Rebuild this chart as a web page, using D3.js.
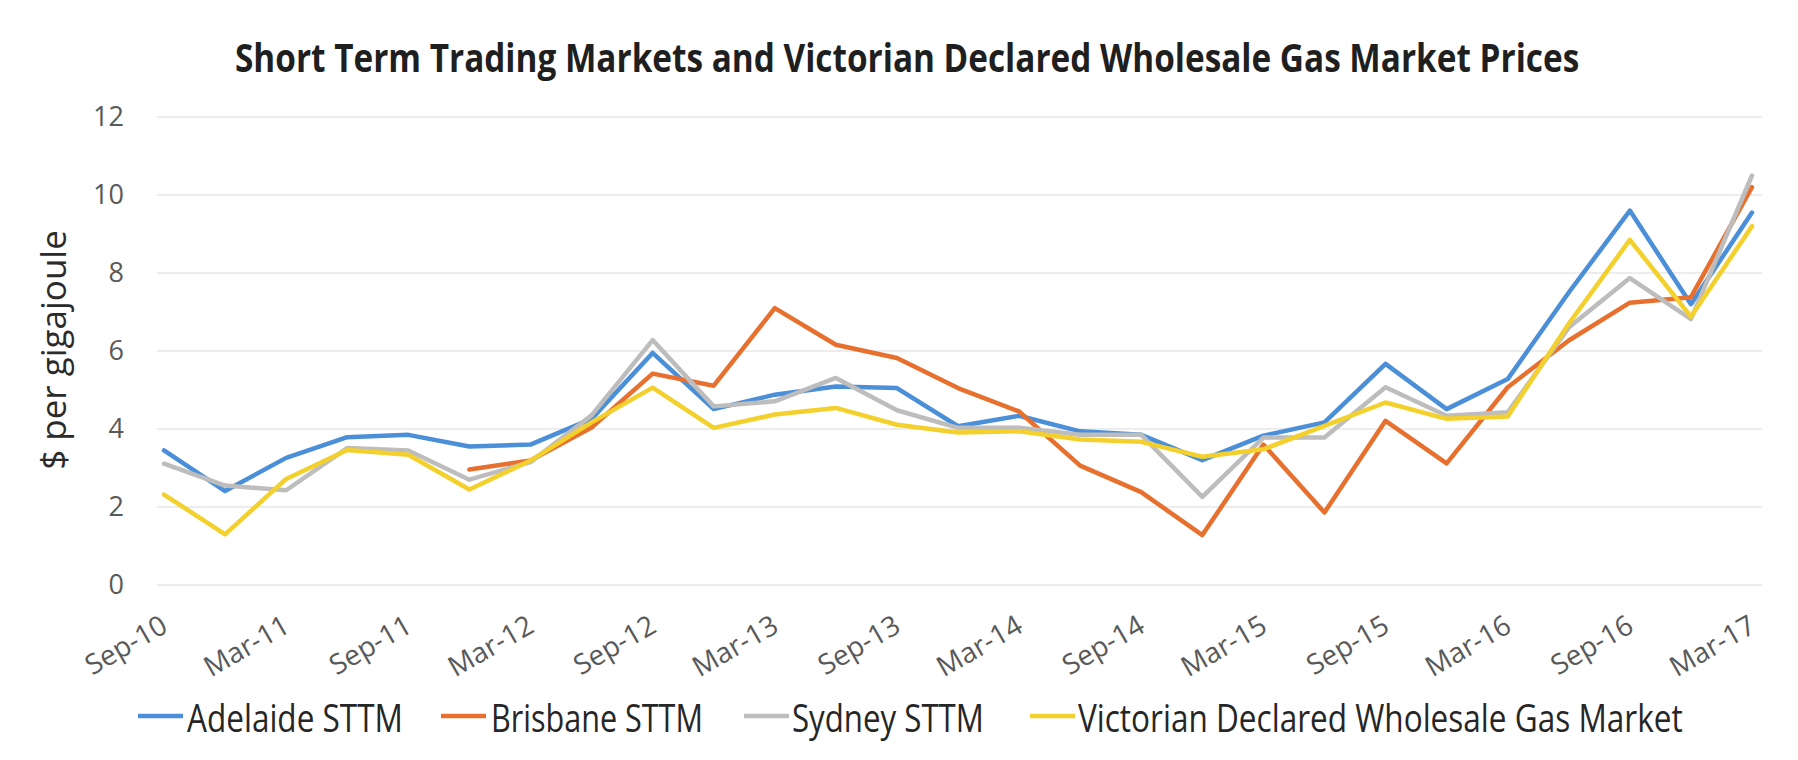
<!DOCTYPE html>
<html>
<head>
<meta charset="utf-8">
<script src="https://cdn.jsdelivr.net/npm/d3@7"></script>
<style>
  html, body { margin: 0; padding: 0; background: #fff; }
  svg { display: block; font-family: 'Open Sans', sans-serif; }
</style>
</head>
<body>
<svg id="chart" width="1798" height="760"></svg>
<script>
// quarterly categories, Sep-10 .. Mar-17
const quarters = [
  'Sep-10', 'Dec-10', 'Mar-11', 'Jun-11', 'Sep-11', 'Dec-11', 'Mar-12', 'Jun-12',
  'Sep-12', 'Dec-12', 'Mar-13', 'Jun-13', 'Sep-13', 'Dec-13', 'Mar-14', 'Jun-14',
  'Sep-14', 'Dec-14', 'Mar-15', 'Jun-15', 'Sep-15', 'Dec-15', 'Mar-16', 'Jun-16',
  'Sep-16', 'Dec-16', 'Mar-17'
]
const tickLabels = ['Sep-10', 'Mar-11', 'Sep-11', 'Mar-12', 'Sep-12', 'Mar-13', 'Sep-13',
  'Mar-14', 'Sep-14', 'Mar-15', 'Sep-15', 'Mar-16', 'Sep-16', 'Mar-17']
const yTicks = [0, 2, 4, 6, 8, 10, 12]

const adelaide = [3.45, 2.41, 3.26, 3.79, 3.85, 3.55, 3.60, 4.26, 5.95, 4.51, 4.88, 5.09, 5.05, 4.07,
  4.34, 3.94, 3.85, 3.20, 3.83, 4.17, 5.67, 4.51, 5.28, 7.50, 9.60, 7.20, 9.55]
const brisbane = [null, null, null, null, null, 2.96, 3.19, 4.04, 5.42, 5.11, 7.10, 6.16, 5.82, 5.05,
  4.45, 3.06, 2.38, 1.28, 3.60, 1.86, 4.21, 3.12, 5.07, 6.27, 7.24, 7.38, 10.2]
const sydney = [3.11, 2.55, 2.43, 3.51, 3.45, 2.70, 3.15, 4.35, 6.28, 4.58, 4.71, 5.31, 4.48, 4.03,
  4.03, 3.85, 3.85, 2.26, 3.78, 3.78, 5.07, 4.34, 4.43, 6.60, 7.87, 6.82, 10.5]
const victoria = [2.32, 1.30, 2.72, 3.46, 3.34, 2.45, 3.19, 4.17, 5.06, 4.03, 4.37, 4.54, 4.11, 3.91,
  3.94, 3.73, 3.67, 3.29, 3.48, 4.08, 4.68, 4.26, 4.32, 6.70, 8.85, 6.88, 9.20]

const series = [
  { name: 'Adelaide STTM', values: adelaide, color: '#4a8fd8' },
  { name: 'Brisbane STTM', values: brisbane, color: '#e8702f' },
  { name: 'Sydney STTM', values: sydney, color: '#bdbdbd' },
  { name: 'Victorian Declared Wholesale Gas Market', values: victoria, color: '#f4d02c' }
]

const svg = d3.select('#chart')

const x = d3.scalePoint().domain(quarters).range([164, 1752])
const y = d3.scaleLinear().domain([0, 12]).range([585, 117])

// squeeze a text horizontally so it spans `width` px starting at x0
function fitWidth(sel, x0, yBase, width) {
  sel.each(function () {
    const natural = this.getComputedTextLength()
    const k = width / natural
    d3.select(this)
      .attr('x', 0)
      .attr('y', 0)
      .attr('transform', `translate(${x0},${yBase}) scale(${k},1)`)
  })
}

// Title
svg.append('text')
  .style('font-size', '39px')
  .style('font-weight', 700)
  .style('fill', '#1f1f1f')
  .text('Short Term Trading Markets and Victorian Declared Wholesale Gas Market Prices')
  .call(fitWidth, 235, 72, 1345)

// Gridlines
svg.append('g')
  .selectAll('line')
  .data(yTicks)
  .enter()
  .append('line')
  .attr('x1', 157)
  .attr('x2', 1762)
  .attr('y1', d => y(d))
  .attr('y2', d => y(d))
  .attr('stroke', '#dcdcdc')
  .attr('stroke-width', 1.2)

// Y axis labels
const yAxis = svg.append('g')
  .attr('transform', 'translate(157,0)')
  .call(d3.axisLeft(y).tickValues(yTicks).tickSize(0).tickPadding(33))
yAxis.select('.domain').remove()
yAxis.selectAll('text')
  .style('font-family', "'Open Sans', sans-serif")
  .style('font-size', '27px')
  .style('fill', '#595959')

// Y axis title
svg.append('text')
  .attr('transform', 'translate(66,350) rotate(-90)')
  .attr('text-anchor', 'middle')
  .style('font-size', '35px')
  .style('fill', '#2b2b2b')
  .text('$ per gigajoule')

// X axis labels
const xAxis = svg.append('g')
  .attr('transform', 'translate(0,585)')
  .call(d3.axisBottom(x).tickValues(tickLabels).tickSize(0).tickPadding(0))
xAxis.select('.domain').remove()
xAxis.selectAll('text')
  .attr('text-anchor', 'end')
  .attr('dy', null)
  .attr('y', 0)
  .attr('transform', 'translate(5,46) rotate(-30)')
  .style('font-family', "'Open Sans', sans-serif")
  .style('font-size', '28px')
  .style('fill', '#595959')

// Lines
const line = d3.line()
  .defined(d => d != null)
  .x((d, i) => x(quarters[i]))
  .y(d => y(d))

svg.append('g')
  .selectAll('path')
  .data(series)
  .enter()
  .append('path')
  .attr('d', d => line(d.values))
  .attr('fill', 'none')
  .attr('stroke', d => d.color)
  .attr('stroke-width', 4.5)
  .attr('stroke-linejoin', 'round')
  .attr('stroke-linecap', 'round')

// Legend
const legendPos = [
  { lx: 138, tx: 187, tw: 216 },
  { lx: 441, tx: 491, tw: 212 },
  { lx: 744, tx: 792, tw: 192 },
  { lx: 1030, tx: 1078, tw: 605 }
]
const legend = svg.append('g')
  .selectAll('g')
  .data(series)
  .enter()
  .append('g')

legend.append('line')
  .attr('x1', (d, i) => legendPos[i].lx)
  .attr('x2', (d, i) => legendPos[i].lx + 45)
  .attr('y1', 716)
  .attr('y2', 716)
  .attr('stroke', d => d.color)
  .attr('stroke-width', 4.5)

legend.append('text')
  .style('font-size', '38px')
  .style('fill', '#262626')
  .text(d => d.name)
  .each(function (d, i) {
    d3.select(this).call(fitWidth, legendPos[i].tx, 732, legendPos[i].tw)
  })
</script>
</body>
</html>
